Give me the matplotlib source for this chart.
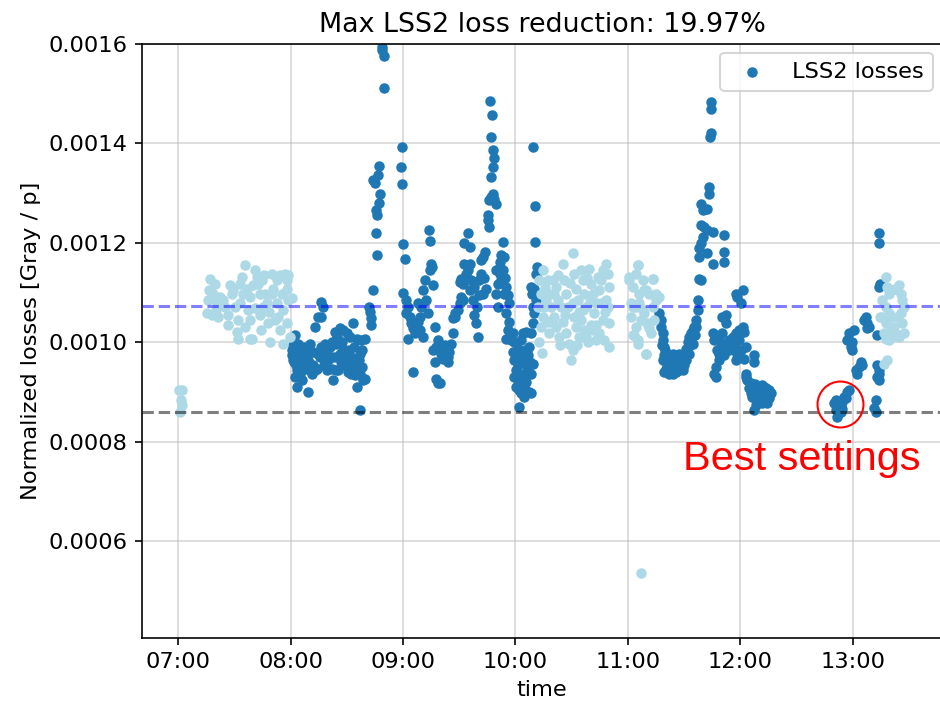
import datetime as dt
import matplotlib
matplotlib.use("Agg")
import matplotlib.pyplot as plt
import matplotlib.dates as mdates

# (minutes after 07:00, loss in units of 1e-4 Gray/p)
light_0700 = [(0.7, 9.03), (2.0, 9.03), (1.5, 8.83), (2.0, 8.73), (1.1, 8.60)]

light_0720 = [
    (17.1, 11.28), (19.7, 11.18), (16.2, 10.85), (18.9, 10.98), (20.6, 10.78), (15.3, 10.58),
    (17.9, 10.54), (21.5, 10.51), (26.8, 10.54), (27.7, 11.15), (28.6, 10.98), (26.8, 10.34),
    (31.3, 10.21), (32.2, 10.07), (33.1, 11.18), (34.0, 11.32), (35.7, 11.55), (36.6, 11.08),
    (33.1, 10.78), (38.4, 10.91), (39.3, 10.07), (41.0, 11.45), (42.0, 11.32), (42.8, 11.18),
    (44.6, 11.25), (46.4, 10.98), (47.3, 10.78), (48.1, 10.38), (49.0, 10.01), (49.9, 11.38),
    (50.8, 11.08), (52.6, 11.25), (54.4, 11.35), (57.0, 11.38), (58.8, 11.35), (52.6, 10.78),
    (53.5, 10.51), (54.4, 10.24), (56.1, 9.97), (57.9, 11.08), (58.8, 10.85), (60.6, 10.88),
    (57.9, 10.38), (38.4, 10.07), (43.7, 10.54), (45.5, 10.71), (38.4, 10.44), (35.7, 10.31),
    (41.0, 10.68), (24.2, 10.85), (25.1, 10.71), (22.4, 10.91), (30.4, 10.71), (34.8, 10.98),
    (43.7, 10.98), (49.9, 10.98), (55.2, 10.98), (57.9, 11.25), (16.5, 11.05), (20.0, 10.65),
    (29.5, 11.05), (31.8, 10.45), (37.5, 10.65), (40.0, 11.15), (46.0, 11.35), (48.5, 10.60),
    (51.5, 10.45), (55.8, 10.65), (59.5, 10.10), (44.0, 10.25),
]

dark_0800 = [
    (76.5, 10.81), (77.4, 10.71), (76.5, 10.51), (74.8, 10.51), (73.0, 10.31), (62.3, 10.14),
    (61.5, 9.94), (63.2, 9.81), (65.0, 9.87), (66.8, 9.74), (64.1, 9.64), (61.5, 9.64),
    (63.2, 9.44), (65.9, 9.44), (67.7, 9.54), (69.4, 9.64), (70.3, 9.97), (72.1, 9.81),
    (73.0, 9.44), (71.2, 9.37), (68.6, 9.47), (65.0, 9.37), (63.2, 9.10), (69.4, 9.00),
    (74.8, 9.77), (76.5, 9.91), (78.3, 9.97), (79.2, 9.81), (80.1, 9.64), (81.9, 9.47),
    (82.8, 9.24), (84.5, 9.44), (81.9, 10.01), (83.6, 10.21), (86.3, 10.28), (88.1, 10.24),
    (89.9, 10.18), (91.6, 10.11), (93.4, 10.38), (95.2, 10.07), (97.8, 10.04), (99.6, 10.07),
    (97.0, 9.77), (96.1, 9.57), (95.2, 9.44), (94.3, 9.34), (97.0, 9.37), (98.7, 9.24),
    (99.6, 9.27), (95.2, 9.10), (88.1, 9.87), (89.9, 9.74), (86.3, 9.77), (85.4, 9.44),
    (90.7, 9.40), (92.5, 9.37), (97.0, 8.63), (75.6, 9.71), (79.2, 9.44), (84.5, 9.97),
    (87.2, 10.01), (64.1, 9.97), (68.6, 9.77), (73.9, 9.47), (62.0, 9.60), (66.0, 9.60),
    (70.0, 9.55), (78.0, 9.55), (87.0, 9.60), (92.0, 9.70), (93.0, 9.55), (90.0, 9.50),
    (98.0, 9.50), (60.8, 9.75), (61.0, 9.85), (62.8, 9.55), (64.5, 9.30), (66.5, 9.50),
    (67.2, 9.90), (71.8, 9.55), (80.8, 9.90), (83.0, 9.70), (85.0, 10.10), (88.8, 9.60),
    (91.0, 9.85), (94.0, 9.90), (96.5, 9.65), (98.2, 9.85), (62.2, 9.30), (66.0, 9.25),
]

dark_0845 = [
    (104.1, 11.06), (101.9, 10.71), (102.3, 10.61), (102.8, 10.48), (103.2, 10.34), (106.4, 11.75),
    (105.5, 12.20), (106.2, 12.56), (105.5, 12.66), (107.2, 12.80), (108.0, 12.99), (104.1, 13.26),
    (105.0, 13.21), (106.9, 13.36), (107.2, 13.54), (109.9, 15.11), (109.9, 15.76), (109.0, 15.93),
    (109.0, 15.88),
]

dark_0900 = [
    (119.5, 13.93), (118.8, 13.52), (119.5, 13.19), (120.0, 11.97), (120.9, 11.67), (120.0, 11.00),
    (121.8, 10.85), (122.7, 10.71), (121.8, 10.58), (123.6, 10.51), (124.5, 10.38), (125.4, 10.28),
    (122.7, 10.07), (126.2, 10.18), (127.1, 10.34), (128.0, 10.41), (128.9, 10.51), (129.8, 10.71),
    (130.7, 11.05), (131.6, 11.25), (132.5, 10.85), (133.3, 10.58), (134.2, 11.45), (135.1, 11.58),
    (135.6, 11.52), (136.0, 11.15), (133.9, 12.26), (134.6, 12.03), (136.9, 10.31), (136.0, 9.84),
    (136.9, 9.60), (137.8, 9.27), (138.7, 9.17), (125.4, 9.40), (128.0, 10.78), (128.9, 10.24),
    (130.7, 10.11), (137.8, 9.91), (138.7, 10.04),
]

dark_0920 = [
    (140.4, 9.77), (143.1, 9.87), (144.8, 9.81), (145.7, 9.97), (143.9, 9.71), (141.3, 9.67),
    (139.5, 9.17), (142.2, 9.94), (146.6, 10.18), (146.6, 10.48), (147.5, 10.58), (149.3, 10.64),
    (150.2, 10.78), (151.0, 10.91), (151.0, 11.28), (150.2, 11.22), (151.9, 11.18), (152.8, 11.58),
    (153.7, 11.38), (154.6, 11.45), (155.5, 11.58), (152.8, 11.99), (154.6, 12.19), (155.5, 11.92),
    (156.4, 11.25), (157.2, 10.85), (158.1, 10.54), (159.0, 10.38), (159.9, 10.11), (158.1, 11.11),
    (160.8, 11.25), (161.7, 11.38), (162.6, 11.72), (163.5, 11.82), (161.7, 11.65), (160.8, 10.95),
    (162.6, 10.98), (164.4, 11.08), (165.2, 12.46), (165.2, 12.56), (166.1, 12.32), (166.1, 12.86),
    (167.0, 12.93), (167.9, 12.99), (168.8, 12.89), (169.7, 12.79), (167.0, 13.33), (167.9, 13.53),
    (168.8, 13.70), (167.9, 13.87), (167.0, 14.13), (167.5, 14.57), (166.5, 14.85), (170.6, 11.18),
    (169.7, 10.98), (171.5, 11.52), (172.3, 11.75), (171.5, 11.38), (173.2, 12.02), (174.1, 11.72),
    (173.2, 11.32), (175.0, 11.11), (175.9, 10.95), (176.8, 10.78), (175.0, 10.58), (176.8, 10.41),
    (175.9, 10.24), (175.0, 10.07), (177.7, 10.04), (178.6, 10.18), (173.2, 11.45), (171.5, 11.62),
    (172.3, 11.25), (174.1, 10.98), (169.7, 11.45), (141.8, 9.85), (144.2, 9.60), (148.0, 10.50),
    (152.0, 10.85), (156.0, 11.05), (159.5, 10.70), (163.0, 11.30), (170.5, 10.70), (174.5, 11.30),
]

dark_1000 = [
    (178.6, 9.81), (179.4, 9.64), (180.3, 9.44), (181.2, 9.24), (182.1, 9.04), (183.0, 8.97),
    (183.9, 9.17), (184.8, 9.37), (185.7, 9.57), (186.5, 9.74), (187.4, 9.91), (188.3, 9.37),
    (187.4, 9.00), (182.1, 8.70), (180.3, 9.10), (183.0, 10.04), (183.9, 10.18), (185.7, 10.21),
    (181.2, 9.87), (179.4, 9.30), (184.8, 9.10), (185.7, 9.20), (186.5, 9.00), (188.3, 8.97),
    (189.2, 9.57), (182.1, 9.71), (183.9, 9.64), (181.2, 9.54), (188.3, 10.18), (189.2, 10.38),
    (190.1, 10.58), (191.0, 10.85), (190.1, 11.08), (191.0, 11.38), (191.3, 11.52), (188.8, 10.98),
    (189.2, 10.71), (189.6, 13.93), (190.6, 12.75), (190.4, 12.02), (188.3, 11.11), (180.8, 9.70),
    (182.6, 9.35), (184.4, 8.90), (186.0, 9.45), (187.8, 9.60), (179.0, 10.00), (185.0, 9.85),
]

light_1005 = [
    (194.5, 11.45), (192.8, 11.25), (193.6, 10.98), (195.4, 10.71), (194.5, 10.51), (193.6, 10.31),
    (192.8, 10.01), (194.2, 9.79), (197.2, 11.25), (198.1, 10.98), (199.0, 10.71), (197.2, 10.41),
    (198.1, 10.18), (199.9, 11.25), (201.6, 11.11), (202.5, 10.85), (200.7, 10.51), (201.6, 10.31),
    (203.4, 10.11), (205.2, 11.58), (206.1, 11.25), (207.0, 10.98), (207.8, 10.71), (205.2, 10.41),
    (207.0, 10.18), (208.7, 9.97), (209.6, 9.64), (210.5, 11.79), (211.4, 11.38), (212.3, 11.08),
    (213.2, 10.85), (211.4, 10.51), (212.3, 10.31), (210.5, 9.84), (214.9, 11.45), (215.8, 11.25),
    (216.7, 10.98), (217.6, 10.71), (214.9, 10.44), (216.7, 10.24), (218.5, 10.01), (219.4, 11.48),
    (220.3, 11.18), (221.1, 10.98), (222.0, 10.58), (221.1, 10.24), (222.9, 10.04), (223.8, 11.32),
    (224.7, 11.05), (225.6, 10.78), (226.5, 10.44), (224.7, 10.18), (227.4, 10.04), (228.3, 11.58),
    (229.1, 11.38), (230.0, 11.11), (229.1, 10.71), (230.0, 10.38), (230.0, 9.91), (228.3, 10.85),
    (225.6, 11.25), (220.3, 10.34), (217.6, 10.11), (214.0, 10.11), (204.3, 10.71), (200.7, 10.98),
    (196.3, 10.85), (191.9, 10.71), (210.5, 10.78), (215.8, 10.64), (222.9, 10.78), (226.5, 11.45),
    (195.8, 11.10), (199.5, 10.40), (202.8, 11.35), (206.5, 10.55), (209.0, 11.20), (213.8, 10.60),
    (218.0, 11.30), (219.8, 10.80), (223.2, 10.35), (227.8, 10.60), (203.8, 9.95), (212.8, 9.95),
]

light_1100 = [
    (240.7, 11.32), (242.5, 11.11), (244.2, 11.38), (245.1, 11.55), (246.0, 10.98), (247.8, 11.25),
    (249.6, 11.05), (251.3, 10.98), (253.1, 11.28), (254.9, 10.98), (256.7, 10.91), (242.5, 10.71),
    (241.6, 10.51), (244.2, 10.31), (246.0, 10.78), (248.7, 10.58), (250.4, 10.38), (251.3, 10.28),
    (243.3, 10.14), (245.1, 9.97), (249.6, 9.77), (252.2, 10.18), (254.0, 10.44), (246.9, 10.44),
    (253.1, 10.71), (240.7, 11.25), (245.2, 11.55), (248.7, 11.05), (253.2, 11.28), (241.6, 10.78),
    (247.8, 10.64), (250.5, 10.34), (242.5, 10.14), (245.2, 10.04), (249.6, 9.77), (254.9, 10.85),
    (244.3, 10.71), (246.9, 5.35),
]

dark_1115 = [
    (256.7, 10.58), (257.6, 10.44), (257.6, 10.31), (258.5, 10.18), (258.5, 10.04), (259.4, 9.91),
    (259.4, 9.74), (260.3, 9.60), (261.1, 9.47), (262.0, 9.37), (263.8, 9.37), (265.6, 9.40),
    (267.4, 9.44), (268.2, 9.54), (269.1, 9.64), (270.0, 9.74), (270.9, 9.87), (271.8, 10.01),
    (272.7, 10.11), (273.6, 10.18), (274.5, 10.24), (275.3, 10.31), (276.2, 10.44), (277.1, 10.64),
    (277.6, 10.85), (278.0, 11.28), (278.9, 11.25), (278.0, 11.72), (278.0, 11.89), (278.9, 11.99),
    (279.8, 12.12), (278.9, 12.36), (280.7, 12.32), (282.4, 12.26), (285.1, 12.22), (279.8, 12.66),
    (278.9, 12.79), (282.4, 12.69), (283.3, 12.99), (283.3, 13.13), (283.7, 14.13), (284.2, 14.20),
    (284.2, 14.70), (284.2, 14.84), (285.1, 11.58), (282.4, 11.79), (258.5, 9.64), (260.3, 9.47),
    (262.9, 9.54), (264.7, 9.60), (266.5, 9.64), (267.4, 9.77), (262.0, 9.71), (263.8, 9.77),
    (269.1, 9.44), (259.4, 9.40), (270.9, 9.64), (272.7, 9.77), (274.5, 9.97), (261.1, 9.60),
    (263.0, 9.45), (265.0, 9.50), (266.0, 9.42), (268.0, 9.70), (264.0, 9.65), (270.0, 9.55),
    (271.5, 9.80), (273.0, 9.95), (275.5, 10.15), (276.5, 10.30), (260.0, 9.85), (258.0, 9.95),
    (265.0, 9.75), (262.5, 9.40),
]

dark_1150 = [
    (291.3, 12.15), (291.3, 11.82), (291.3, 11.62), (292.2, 10.54), (290.4, 10.51), (292.2, 10.38),
    (285.1, 10.18), (286.0, 10.04), (288.7, 10.07), (290.4, 10.18), (292.2, 9.97), (294.0, 10.04),
    (295.8, 10.11), (297.5, 10.18), (299.3, 10.24), (299.3, 10.04), (298.4, 9.77), (296.6, 9.87),
    (294.0, 9.84), (291.3, 9.74), (288.7, 9.64), (286.9, 9.50), (286.0, 9.37), (286.9, 9.30),
    (288.7, 9.77), (297.5, 10.98), (298.4, 10.91), (301.1, 11.05), (300.2, 10.78), (301.1, 10.31),
    (302.0, 10.21), (300.2, 9.84), (302.0, 9.67), (302.9, 9.91), (297.5, 9.64), (289.5, 9.90),
    (293.0, 9.90), (295.0, 9.95), (297.0, 10.00), (287.5, 9.85),
]

dark_1200 = [
    (302.9, 9.37), (303.7, 9.24), (305.5, 9.17), (307.3, 9.04), (308.2, 8.83), (307.3, 8.63),
    (309.9, 9.10), (311.7, 9.13), (313.5, 9.07), (315.3, 9.04), (315.3, 8.87), (314.4, 8.77),
    (311.7, 8.77), (309.9, 8.83), (309.1, 8.97), (307.3, 9.74), (307.3, 9.60), (302.9, 9.30),
    (305.5, 8.97), (310.8, 8.97), (313.5, 8.90), (316.2, 8.97), (308.2, 8.73), (306.4, 8.90),
    (304.6, 9.07), (310.0, 9.00), (312.0, 8.95), (314.0, 9.00), (306.0, 9.10), (309.0, 8.90),
    (311.0, 9.05), (313.0, 8.85), (308.0, 9.15), (312.5, 9.10),
]

dark_1250 = [
    (349.9, 8.77), (350.8, 8.63), (351.7, 8.50), (352.6, 8.57), (353.4, 8.70), (354.3, 8.80),
    (355.2, 8.90), (357.0, 9.00), (357.9, 9.04), (352.6, 8.73), (350.8, 8.83), (353.4, 8.60),
    (356.1, 8.87), (351.5, 8.68), (354.0, 8.65),
]

dark_1300 = [
    (357.0, 10.04), (357.9, 10.18), (358.8, 9.91), (359.7, 10.01), (360.5, 10.24), (359.7, 9.84),
    (361.4, 9.44), (362.3, 9.37), (363.2, 9.50), (364.1, 9.60), (365.0, 9.54), (365.9, 10.44),
    (366.8, 10.51), (367.6, 10.38), (368.5, 10.31), (367.6, 10.28), (373.0, 10.14), (373.9, 11.11),
    (374.7, 11.18), (373.9, 11.99), (373.9, 12.19), (373.0, 9.54), (373.9, 9.44), (373.0, 9.30),
    (373.9, 9.24), (372.1, 8.83), (371.2, 8.67), (372.1, 8.60), (373.9, 9.37),
]

light_1305 = [
    (377.4, 11.32), (378.3, 11.11), (379.2, 10.98), (380.9, 11.05), (382.7, 11.08), (384.5, 11.15),
    (385.4, 10.98), (386.3, 10.85), (387.2, 10.71), (377.4, 10.71), (379.2, 10.58), (375.6, 10.51),
    (377.4, 10.38), (376.5, 10.18), (380.1, 10.24), (381.8, 10.31), (383.6, 10.51), (386.3, 10.38),
    (387.2, 10.18), (384.5, 10.11), (382.7, 10.18), (380.9, 10.11), (379.2, 10.04), (377.4, 10.07),
    (374.7, 10.51), (378.3, 9.64), (376.5, 9.57), (380.9, 10.51), (375.6, 10.85), (385.4, 10.58),
]

reference_loss = 10.73   # mean loss before optimisation
best_loss = 8.59         # best settings
best_point = (353.0, 8.76)

start = dt.datetime(2022, 5, 20, 7, 0)


def to_xy(points):
    t = [start + dt.timedelta(minutes=m) for m, v in points]
    y = [v * 1e-4 for m, v in points]
    return t, y


dark = dark_0800 + dark_0845 + dark_0900 + dark_0920 + dark_1000 + dark_1115 + dark_1150 + dark_1200 + dark_1250 + dark_1300
light = light_0700 + light_0720 + light_1005 + light_1100 + light_1305

plt.rcParams['font.size'] = 11

fig = plt.figure(figsize=(940 / 147, 707 / 147), dpi=147)
ax = fig.add_axes([0.1511, 0.0976, 0.851, 0.8402])

dt_x, dt_y = to_xy(dark)
lt_x, lt_y = to_xy(light)
ax.scatter(dt_x, dt_y, s=17, color='#1f77b4', label='LSS2 losses', zorder=2)
ax.scatter(lt_x, lt_y, s=17, color='lightblue', zorder=2)

ax.axhline(reference_loss * 1e-4, color='b', ls='--', alpha=0.5, zorder=3)
ax.axhline(best_loss * 1e-4, color='k', ls='--', alpha=0.5, zorder=3)

bx, by = to_xy([best_point])
ax.plot(bx, by, 'o', ms=22.5, mfc='none', mec='red', mew=1.0, zorder=4)
fig.text(683 / 940, (707 - 470) / 707, 'Best settings', color='red',
         fontsize=20.3, family='Liberation Sans', ha='left', va='baseline')

ax.set_xlim(start - dt.timedelta(minutes=19.2), start + dt.timedelta(minutes=407.5))
ax.set_ylim(0.000405, 0.0016)
ax.set_yticks([0.0006, 0.0008, 0.0010, 0.0012, 0.0014, 0.0016])
ax.xaxis.set_major_locator(mdates.HourLocator())
ax.xaxis.set_major_formatter(mdates.DateFormatter('%H:%M'))
ax.spines['right'].set_visible(False)

ax.grid(alpha=0.5)
ax.set_axisbelow(True)
ax.set_title('Max LSS2 loss reduction: 19.97%')
ax.set_xlabel('time')
ax.set_ylabel('Normalized losses [Gray / p]')
ax.legend(loc='upper right', borderaxespad=0.4)

fig.savefig('out.png', dpi=147)
